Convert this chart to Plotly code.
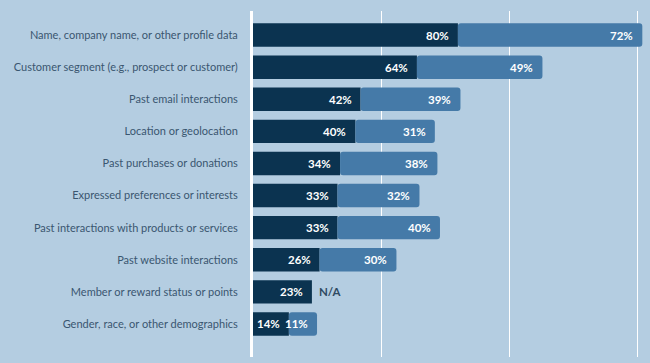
import plotly.graph_objects as go

categories = [
    "Name, company name, or other profile data",
    "Customer segment (e.g., prospect or customer)",
    "Past email interactions",
    "Location or geolocation",
    "Past purchases or donations",
    "Expressed preferences or interests",
    "Past interactions with products or services",
    "Past website interactions",
    "Member or reward status or points",
    "Gender, race, or other demographics",
]
series_a = [80, 64, 42, 40, 34, 33, 33, 26, 23, 14]
series_b = [72, 49, 39, 31, 38, 32, 40, 30, None, 11]

DARK = "#0b3350"
MID = "#457aa8"
BG = "#b4cde1"

fig = go.Figure()
fig.add_trace(go.Bar(
    y=categories, x=series_a, orientation="h", marker_color=DARK,
    marker_line_width=0, marker_cornerradius=0, width=0.73, hoverinfo="skip",
))
fig.add_trace(go.Bar(
    y=categories, x=series_b, base=series_a, orientation="h", marker_color=MID,
    marker_line_width=0, marker_cornerradius=3, width=0.73, hoverinfo="skip",
))

lab_font = dict(color="white", size=11.5, family="Lato", weight="bold")
for c, a, b in zip(categories, series_a, series_b):
    fig.add_annotation(x=a, y=c, text=f"{a}%", showarrow=False, xanchor="right",
                       xshift=-7, font=lab_font)
    if b is None:
        fig.add_annotation(x=a, y=c, text="<b>N/A</b>", showarrow=False, xanchor="left",
                           xshift=5, font=dict(color="#2f4a62", size=11.5, family="Lato"))
    else:
        fig.add_annotation(x=a + b, y=c, text=f"{b}%", showarrow=False, xanchor="right",
                           xshift=-7, font=lab_font)

fig.update_layout(
    barmode="overlay",
    width=650, height=363,
    margin=dict(l=253, r=0, t=11, b=6),
    paper_bgcolor=BG, plot_bgcolor=BG,
    showlegend=False,
    hovermode=False,
    xaxis=dict(range=[0, 155], tickvals=[50, 100, 150], showticklabels=False,
               showgrid=True, gridcolor="white", gridwidth=1, zeroline=False),
    yaxis=dict(autorange=False, range=[10.03, -0.75], showline=True, linecolor="white",
               linewidth=3, ticks="", ticklabelstandoff=10,
               tickfont=dict(color="#3a5670", size=11, family="Lato")),
)

fig.write_html("out.html", config={"displayModeBar": False},
               post_script="document.body.style.margin='0';document.body.style.background='%s';" % BG)
